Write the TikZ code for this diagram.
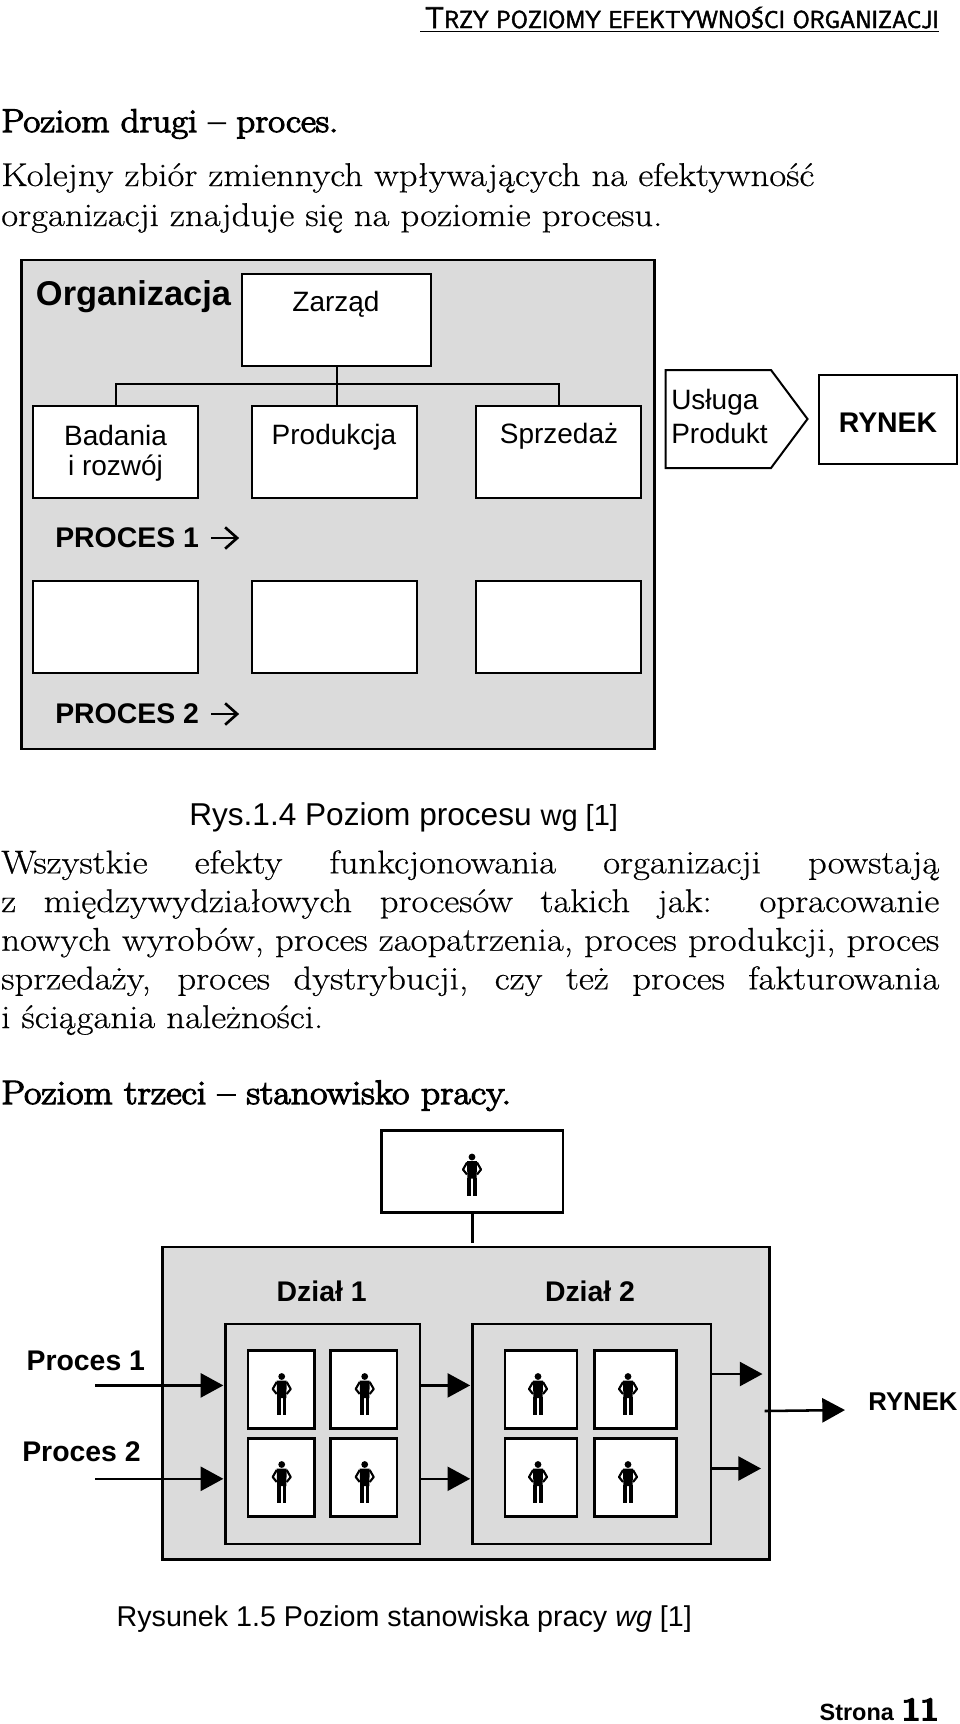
\documentclass[tikz,border=0pt]{standalone}
\usepackage{fontspec}
\setsansfont{Liberation Sans}
\newfontfamily\headsans[FakeBold=2]{Latin Modern Sans}
\newfontfamily\bodyrm[FakeStretch=1.116,FakeBold=0.5]{Latin Modern Roman}
\newfontfamily\fakebf[FakeStretch=1.116,FakeBold=3.5]{Latin Modern Roman}
\newfontfamily\pagenum[FakeBold=5]{Latin Modern Roman}
\usetikzlibrary{arrows.meta}

\tikzset{
    txt/.style={inner sep=0pt,font=\sffamily\fontsize{21}{25}\selectfont},
    txtbf/.style={inner sep=0pt,font=\sffamily\bfseries\fontsize{21.3}{25}\selectfont},
    body/.style={inner sep=0pt,anchor=base west,font=\bodyrm\fontsize{24.7}{29}\selectfont},
    bodybf/.style={inner sep=0pt,anchor=base west,font=\fakebf\fontsize{24.7}{29}\selectfont},
    panel/.style={draw=black,line width=1.6pt,fill=black!14},
    whitebox/.style={draw=black,line width=1.5pt,fill=white,inner sep=0pt,outer sep=0pt},
    procbox/.style={whitebox,minimum width=124pt,minimum height=69pt},
    workbox/.style={draw=black,line width=2pt,fill=white,inner sep=0pt,outer sep=0pt,minimum height=58.5pt},
    deptbox/.style={draw=black,line width=2pt,fill=black!14,inner sep=0pt,outer sep=0pt,minimum height=165pt},
    flow/.style={-{Triangle[length=17pt,width=18pt]},line width=1.9pt,shorten >=1.5pt},
    barb/.style={-{Straight Barb[length=9pt,width=16pt]},line width=2pt},
    personfig/.pic={
        \fill (0,-17.5) circle (3.4);
        \fill (-5,-13.5) -- (5,-13.5) -- (4.6,4) -- (-4.6,4) -- cycle;
        \draw[line width=1.6pt,line join=round] (-5,-12) -- (-9,-5) -- (-5,0);
        \draw[line width=1.6pt,line join=round] (5,-12) -- (9,-5) -- (5,0);
        \fill (-4.6,3) rectangle (-0.8,21);
        \fill (0.8,3) rectangle (4.6,21);
    }
}

\begin{document}
\begin{tikzpicture}[x=0.75pt,y=-0.75pt]
    \useasboundingbox (0,0) rectangle (960,1724);

    % page head
    \node[inner sep=0pt,anchor=base east,font=\headsans\fontsize{18.4}{20}\selectfont] (head) at (939,28)
        {{\fontsize{22.5}{20}\selectfont T}RZY POZIOMY EFEKTYWNOŚCI ORGANIZACJI};
    \draw[line width=1.3pt] (420,31.5) -- (939,31.5);

    \node[bodybf] (title1) at (1,132) {Poziom drugi – proces.};
    \node[body] (line1) at (1,186) {Kolejny zbiór zmiennych wpływających na efektywność};
    \node[body] (line2) at (1,226) {organizacji znajduje się na poziomie procesu.};

    % first figure
    \draw[panel] (21.5,260) rectangle (654.5,749);
    \node[txtbf,font=\sffamily\bfseries\fontsize{25.8}{30}\selectfont] (org) at (133.5,297) {Organizacja};

    \node[whitebox,minimum width=141.75pt,minimum height=69pt] (zarzad) at (336.5,320) {};
    \node[txt] (zarzadt) at (336,304) {Zarząd};

    \foreach \x/\name in {115.5/bad,334.5/prod,558.5/sprz} {
        \node[procbox] (\name1) at (\x,452) {};
        \node[procbox] (\name2) at (\x,626.5) {};
    }
    \coordinate (jn) at (336,384);
    \draw[line width=1.5pt] (zarzad.south) -- (zarzad.south |- prod1.north);
    \draw[line width=1.5pt] (bad1.north) |- (jn) -| (sprz1.north);

    \node[txt] (badt) at (115.5,435) {Badania};
    \node[txt] (rozt) at (115.5,468) {i rozwój};
    \node[txt] (prodt) at (334,437) {Produkcja};
    \node[txt] (sprzt) at (559,436) {Sprzedaż};

    \node[txtbf,anchor=west] (proc1) at (55,538) {PROCES 1};
    \node[txtbf,anchor=west] (proc2) at (55,714) {PROCES 2};
    \draw[barb] ([xshift=9pt]proc1.east) -- ++(28,0);
    \draw[barb] ([xshift=9pt]proc2.east) -- ++(28,0);

    \draw[line width=1.5pt,fill=white] (665.5,370) -- (771,370) -- (807.5,419) -- (771,468) -- (665.5,468) -- cycle;
    \node[txt,anchor=west] (uslt) at (671,402) {Usługa};
    \node[txt,anchor=west] (prot) at (671,433) {Produkt};
    \node[whitebox,minimum width=103.5pt,minimum height=67pt] (rynek1) at (888,419.5) {};
    \node[txtbf] (rynek1t) at (888,423) {RYNEK};

    \node[inner sep=0pt,anchor=base west,font=\sffamily\fontsize{23.7}{28}\selectfont] (cap1) at (189,825) {Rys.1.4 Poziom procesu {\fontsize{21.8}{25}\selectfont wg [1]}};

    \node[inner sep=0pt,anchor=north west,text width=703.5pt,align=justify,font=\bodyrm\fontsize{24.7}{29}\selectfont] (para) at (1,850) {%
        Wszystkie efekty funkcjonowania organizacji powstają\linebreak
        z międzywydziałowych procesów takich jak: opracowanie\linebreak
        nowych wyrobów, proces zaopatrzenia, proces produkcji, proces\linebreak
        sprzedaży, proces dystrybucji, czy też proces fakturowania\linebreak
        i ściągania należności.};

    \node[bodybf,font=\fakebf\fontsize{25.4}{29}\selectfont] (title2) at (1,1104) {Poziom trzeci – stanowisko pracy.};

    % second figure
    \node[workbox,minimum width=136pt,minimum height=61.5pt] (boss) at (472.3,1171.5) {};
    \pic at (472,1174.5) {personfig};
    \coordinate (bossend) at (472.3,1243);
    \draw[line width=2pt] (boss.south) -- (bossend);

    \draw[draw=black,line width=2pt,fill=black!14] (162.5,1247) rectangle (769.5,1559.5);
    \node[txtbf] (dzial1) at (321.7,1291.5) {Dział 1};
    \node[txtbf] (dzial2) at (590,1291.5) {Dział 2};
    \node[deptbox,minimum width=146pt] (dept1) at (322.7,1434) {};
    \node[deptbox,minimum width=179pt] (dept2) at (591.5,1434) {};

    \foreach \y/\r in {1389.5/a,1477.5/b} {
        \node[workbox,minimum width=50pt] (w1\r) at (281.2,\y) {};
        \node[workbox,minimum width=50pt] (w2\r) at (363.7,\y) {};
        \node[workbox,minimum width=54pt] (w3\r) at (541,\y) {};
        \node[workbox,minimum width=61.5pt] (w4\r) at (635.5,\y) {};
        \foreach \x in {281.7,364.7,538,628} {
            \pic at (\x,\y+4.5) {personfig};
        }
    }

    \node[txtbf] (p1t) at (85.8,1361) {Proces 1};
    \node[txtbf] (p2t) at (81.5,1451.7) {Proces 2};
    \coordinate (p1) at (95,1385.4);
    \coordinate (p2) at (95,1478.8);
    \coordinate (m1) at (dept1.east |- p1);
    \coordinate (m2) at (dept1.east |- p2);
    \draw[flow] (p1) -- (dept1.west |- p1);
    \draw[flow] (p2) -- (dept1.west |- p2);
    \draw[flow] ([xshift=1pt]m1) -- (dept2.west |- p1);
    \draw[flow] ([xshift=1pt]m2) -- (dept2.west |- p2);
    \coordinate (r1) at (764.5,1374);
    \coordinate (r2) at (763,1468.5);
    \draw[flow] (dept2.east |- r1) -- (r1);
    \draw[flow] (dept2.east |- r2) -- (r2);
    \coordinate (out) at (764.7,1411);
    \coordinate (outend) at (847,1410);
    \draw[flow] (out) -- (outend);
    \node[txtbf,font=\sffamily\bfseries\fontsize{19.3}{23}\selectfont] (rynek2) at (913,1401.7) {RYNEK};

    \node[txt,anchor=base west,font=\sffamily\fontsize{21.5}{25}\selectfont] (cap2) at (116.4,1626) {Rysunek 1.5 Poziom stanowiska pracy \textit{wg} [1]};

    % page foot
    \node[inner sep=0pt,anchor=base east,font=\sffamily\bfseries\fontsize{17.6}{20}\selectfont] (page) at (939,1720)
        {Strona\hspace{6pt}{\pagenum\fontsize{24.5}{26}\selectfont 11}};
\end{tikzpicture}
\end{document}
